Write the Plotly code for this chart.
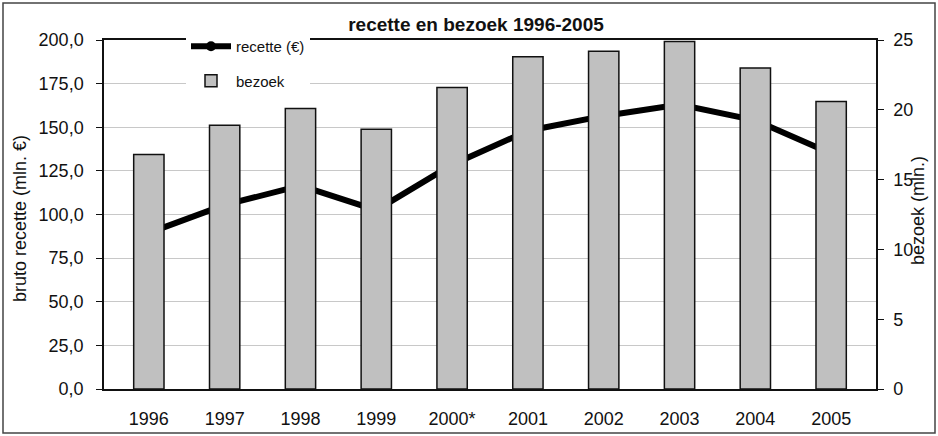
import plotly.graph_objects as go

years = ["1996", "1997", "1998", "1999", "2000*", "2001", "2002", "2003", "2004", "2005"]
recette = [89.5, 105.5, 116.5, 102.5, 128.5, 148.0, 156.5, 163.0, 154.0, 135.0]
bezoek = [16.8, 18.9, 20.1, 18.6, 21.6, 23.8, 24.2, 24.9, 23.0, 20.6]

W, H = 938, 436
L, R, T, B = 104, 62, 40, 47
PW, PH = W - L - R, H - T - B

def px(x):
    return (x - L) / PW

def py(y):
    return (H - B - y) / PH

FONT = "Liberation Sans, Arial, sans-serif"

fig = go.Figure()
fig.add_trace(go.Scatter(
    x=years, y=recette, name="recette (€)", mode="lines+markers",
    line=dict(color="black", width=6), marker=dict(color="black", size=10),
    yaxis="y", legendgroup="a",
))
fig.add_trace(go.Bar(
    x=years, y=bezoek, name="bezoek", yaxis="y2",
    marker=dict(color="#c0c0c0", line=dict(color="#111111", width=1.5)),
    legendgroup="b",
))

fig.update_layout(
    width=W, height=H,
    margin=dict(l=L, r=R, t=T, b=B, autoexpand=False),
    paper_bgcolor="white", plot_bgcolor="white",
    font=dict(family=FONT, color="#111111", size=18),
    separators=",.",
    bargap=0.6,
    showlegend=True,
    title=dict(text="<b>recette en bezoek 1996-2005</b>", x=476 / W, xanchor="center",
               y=1 - 24 / H, yanchor="middle", automargin=False,
               font=dict(size=19, family=FONT, color="#111111")),
    legend=dict(x=px(186), y=py(30), xanchor="left", yanchor="top",
                bgcolor="white", borderwidth=0, font=dict(size=15, family=FONT),
                traceorder="grouped", tracegroupgap=12, itemwidth=40),
    xaxis=dict(type="category", showline=True, linecolor="#111111", linewidth=1.5,
               mirror=True, ticks="outside", ticklen=13, tickcolor="rgba(0,0,0,0)",
               showgrid=False, tickfont=dict(size=18), automargin=False),
    yaxis=dict(range=[0, 200], dtick=25, tickformat=".1f", showline=True,
               linecolor="#111111", linewidth=1.5, ticks="outside", ticklen=6,
               tickcolor="#111111", showgrid=True, gridcolor="#c8c8c8", gridwidth=1,
               ticklabelstandoff=9, zeroline=False, tickfont=dict(size=18),
               automargin=False),
    yaxis2=dict(range=[0, 25], dtick=5, overlaying="y", side="right", showline=True,
                linecolor="#111111", linewidth=1.5, ticks="outside", ticklen=6,
                tickcolor="#111111", showgrid=False, zeroline=False,
                ticklabelstandoff=6, tickfont=dict(size=18), automargin=False),
    annotations=[
        dict(text="bruto recette (mln. €)", textangle=-90, xref="paper", yref="paper",
             x=px(20), y=py(219), showarrow=False, xanchor="center", yanchor="middle",
             font=dict(size=18, family=FONT)),
        dict(text="bezoek (mln.)", textangle=-90, xref="paper", yref="paper",
             x=px(918), y=py(211), showarrow=False, xanchor="center", yanchor="middle",
             font=dict(size=18, family=FONT)),
    ],
    shapes=[
        dict(type="rect", xref="paper", yref="paper", x0=px(3), x1=px(935),
             y0=py(433), y1=py(3), line=dict(color="#444444", width=1.5),
             fillcolor="rgba(0,0,0,0)", layer="below"),
    ],
)

fig.write_html("out.html", config={"displayModeBar": False},
               post_script="document.body.style.margin='0';document.body.style.overflow='hidden';")
